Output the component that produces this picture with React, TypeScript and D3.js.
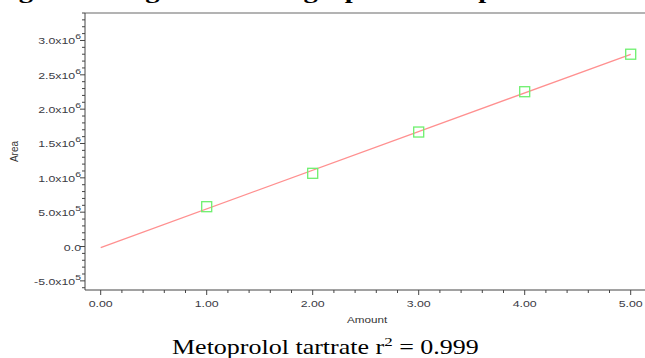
import * as d3 from 'd3';

// calibration points
const amounts = [1, 2, 3, 4, 5];
const areas = [0.58e6, 1.066e6, 1.667e6, 2.254e6, 2.8e6];

// fitted line end points
const fitAmounts = [0, 5];
const fitAreas = [-0.015e6, 2.799e6];

const xTicks = [0, 1, 2, 3, 4, 5];
const yTicks = [-0.5e6, 0, 0.5e6, 1.0e6, 1.5e6, 2.0e6, 2.5e6, 3.0e6];
const yTickText = ['-5.0x10', '0.0', '5.0x10', '1.0x10', '1.5x10', '2.0x10', '2.5x10', '3.0x10'];
const yTickExp = ['5', '', '5', '6', '6', '6', '6', '6'];

const W = 645;
const H = 358;
const plotLeft = 85;
const plotTop = 13;
const plotBottom = 290;
// the source picture is stretched sideways
const SX = 1.3;

export default function App() {
  const x = d3.scaleLinear().domain([0, 5]).range([100.7, 630.7]);
  const y = d3.scaleLinear().domain([-0.633e6, 3.4e6]).range([plotBottom, plotTop]);

  const xMinor = d3.range(0, 5.01, 0.2).filter((v) => Math.abs(v - Math.round(v)) > 0.01);
  const yMinor = d3.range(-6e5, 3.41e6, 1e5).filter((v) => Math.abs(v / 5e5 - Math.round(v / 5e5)) > 0.01);

  const line = d3.line<number>()
    .x((_, i) => x(fitAmounts[i]))
    .y((d) => y(d));

  const tickColor = '#444';
  const labelColor = '#3a3a44';
  const sans = "'Liberation Sans', Arial, sans-serif";
  const serif = "'Liberation Serif', 'Times New Roman', serif";
  const at = (px: number, py: number) => `translate(${px},${py}) scale(${SX},1)`;

  return (
    <svg width={W} height={H} style={{ position: 'absolute', left: 0, top: 0, background: '#fff' }}>
      {/* cropped figure title, only descenders show */}
      <text transform={at(-6.6, -2.5)} fontFamily={serif} fontWeight="bold" fontSize={22} fill="#000">
        Figure 3: Regression line graph of Metoprolol tartrate
      </text>

      {/* frame */}
      <line x1={plotLeft} x2={W} y1={plotTop} y2={plotTop} stroke="#9a9a9a" strokeWidth={1.5} />
      <line x1={plotLeft} x2={plotLeft} y1={plotTop} y2={plotBottom} stroke={tickColor} strokeWidth={1} />
      <line x1={plotLeft} x2={W} y1={plotBottom} y2={plotBottom} stroke={tickColor} strokeWidth={1} />

      {/* y ticks */}
      {yMinor.map((v) => (
        <line key={`ym${v}`} x1={plotLeft - 3} x2={plotLeft} y1={y(v)} y2={y(v)} stroke={tickColor} strokeWidth={1} />
      ))}
      {yTicks.map((v, i) => (
        <g key={`y${v}`}>
          <line x1={plotLeft - 5} x2={plotLeft} y1={y(v)} y2={y(v)} stroke={tickColor} strokeWidth={1} />
          <text transform={at(plotLeft - 4, y(v) + 4)} textAnchor="end" fontFamily={sans} fontSize={9.5} fill={labelColor}>
            {yTickText[i]}
            {yTickExp[i] && <tspan dy={-5} fontSize={8}>{yTickExp[i]}</tspan>}
          </text>
        </g>
      ))}

      {/* x ticks */}
      {xMinor.map((v) => (
        <line key={`xm${v}`} x1={x(v)} x2={x(v)} y1={plotBottom} y2={plotBottom + 3} stroke={tickColor} strokeWidth={1} />
      ))}
      {xTicks.map((v) => (
        <g key={`x${v}`}>
          <line x1={x(v)} x2={x(v)} y1={plotBottom} y2={plotBottom + 5} stroke={tickColor} strokeWidth={1} />
          <text transform={at(x(v), 307)} textAnchor="middle" fontFamily={sans} fontSize={9.5} fill={labelColor}>
            {v.toFixed(2)}
          </text>
        </g>
      ))}

      {/* axis titles */}
      <text transform={at(367, 323)} textAnchor="middle" fontFamily={sans} fontSize={9} fill="#333">
        Amount
      </text>
      <text
        transform={`translate(18, ${(plotTop + plotBottom) / 2}) rotate(-90)`}
        textAnchor="middle"
        fontFamily={sans}
        fontSize={10}
        fill="#333"
      >
        Area
      </text>

      {/* regression line */}
      <path d={line(fitAreas) || ''} fill="none" stroke="#ff9090" strokeWidth={1.3} />

      {/* points */}
      {amounts.map((a, i) => (
        <rect
          key={a}
          x={x(a) - 5}
          y={y(areas[i]) - 5}
          width={10}
          height={10}
          fill="none"
          stroke="#6ef06e"
          strokeWidth={1.3}
        />
      ))}

      {/* caption */}
      <text transform={at(172, 354)} fontFamily={serif} fontSize={20} fill="#000">
        Metoprolol tartrate r<tspan dy={-8} fontSize={13}>2</tspan><tspan dy={8}> = 0.999</tspan>
      </text>
    </svg>
  );
}
